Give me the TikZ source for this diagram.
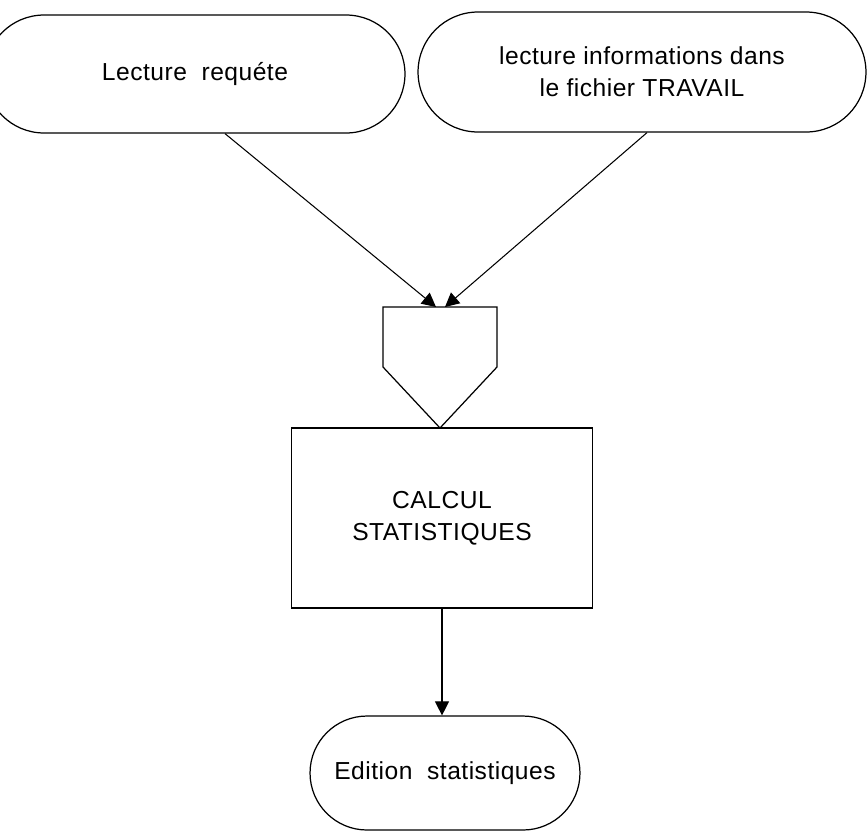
\documentclass[tikz,border=0pt]{standalone}
\usepackage{fontspec}
\setmainfont{Liberation Sans}[LetterSpace=2]
\usetikzlibrary{shapes.misc,arrows.meta}

\newcommand{\flowfont}{\fontsize{14}{18}\selectfont}

\tikzset{
  terminal/.style={rounded rectangle, draw, line width=0.7pt, inner sep=0pt,
    font=\flowfont, align=center},
  process/.style={rectangle, draw, line width=0.9pt, inner sep=0pt,
    font=\flowfont, align=center},
  flow/.style={line width=0.6pt, -{Triangle[length=8pt,width=8pt]}}
}

\begin{document}
\begin{tikzpicture}[x=0.02cm, y=-0.02cm]
  \useasboundingbox (0,0) rectangle (868,833);

  % entrees
  \node[terminal, minimum width=8.4cm, minimum height=2.36cm] (lecreq) at (195,74)
    {Lecture \ requéte};
  \node[terminal, minimum width=8.96cm, minimum height=2.4cm] (lecinfo) at (642,72)
    {lecture informations dans\\le fichier TRAVAIL};

  % connecteur
  \coordinate (conn-tl) at (383,307);
  \coordinate (conn-tr) at (497,307);
  \coordinate (connL) at (436,307);
  \coordinate (connR) at (445,307);
  \draw[line width=0.7pt] (conn-tl) -- (conn-tr) -- (497,367) -- (440,428)
    -- (383,367) -- cycle;

  \draw[flow] ([xshift=0.6cm]lecreq.south) -- (connL);
  \draw[flow] ([xshift=0.1cm]lecinfo.south) -- (connR);

  % traitement
  \node[process, minimum width=6.02cm, minimum height=3.6cm] (calcul) at (442,518)
    {CALCUL\\STATISTIQUES};

  % sortie
  \node[terminal, minimum width=5.4cm, minimum height=2.28cm] (edition) at (445,773)
    {Edition \ statistiques};

  \draw[flow] (calcul.south) -- (calcul.south |- edition.north);
\end{tikzpicture}
\end{document}
